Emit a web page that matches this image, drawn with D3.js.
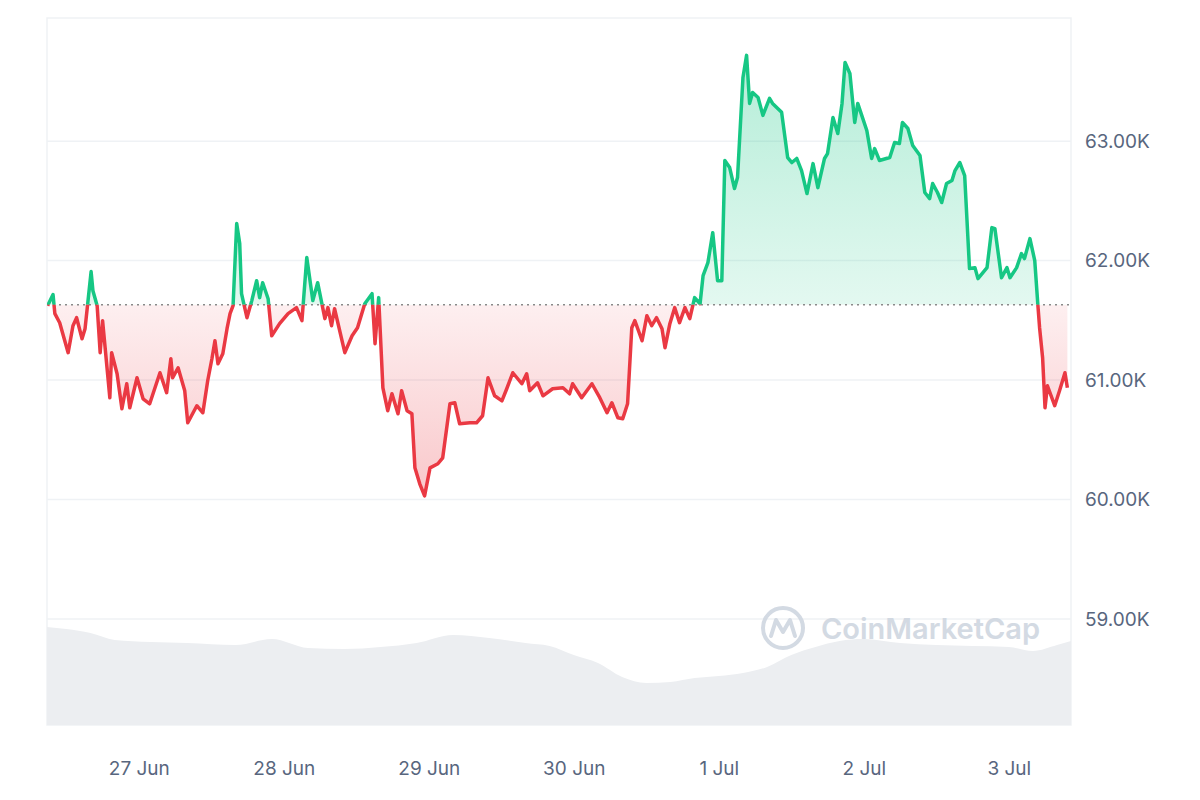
<!DOCTYPE html>
<html><head><meta charset="utf-8">
<script src="https://cdn.jsdelivr.net/npm/d3@7"></script>
<style>body{margin:0;background:#fff}svg{display:block}text{font-family:Inter,"Noto Sans",sans-serif}</style>
</head><body><svg id="c" width="1200" height="800"></svg>
<script>
// hours since 26 Jun 00:00
const hours=[8.9,9.8,10.1,10.9,12.3,13.1,13.7,14.6,15.1,16.1,16.4,17.1,17.6,18.0,19.2,19.5,20.4,21.2,22.0,22.5,23.7,24.7,25.8,27.5,28.6,29.3,29.6,30.5,31.6,32.1,33.6,34.6,35.4,36.1,36.6,37.1,37.9,38.6,39.1,39.6,40.2,40.7,41.0,41.9,42.7,43.5,44.0,44.5,45.4,46.0,47.3,48.7,50.1,51.0,51.8,52.8,53.6,54.8,55.3,55.9,56.4,58.1,59.3,60.2,61.4,62.6,63.1,63.7,64.4,65.2,65.9,66.9,67.5,68.4,69.2,69.7,70.5,71.3,72.2,73.5,74.3,75.5,76.3,77.1,78.8,79.9,80.9,81.8,82.9,84.1,84.9,85.9,87.4,88.2,88.7,90.0,90.9,92.5,94.2,95.3,95.8,97.3,99.0,100.3,101.5,102.3,103.3,104.1,104.9,105.6,106.1,107.3,108.1,108.9,109.7,110.6,111.1,111.9,112.7,113.5,114.4,115.2,116.0,116.9,117.4,118.2,119.0,119.8,120.5,121.0,121.8,122.6,123.1,124.0,124.6,125.1,125.6,126.5,127.3,128.4,128.9,130.4,131.4,132.1,132.9,133.7,134.6,135.6,136.4,137.5,138.0,138.9,139.7,140.4,140.9,141.7,142.5,143.0,144.5,145.3,145.8,146.6,148.3,149.1,149.9,150.4,151.3,152.1,153.3,154.1,154.9,155.4,156.2,156.9,157.7,158.6,159.1,159.9,160.7,161.5,162.4,162.9,164.4,165.2,165.7,166.8,167.7,168.2,169.3,170.1,170.6,171.5,172.3,172.8,173.1,173.6,174.0,174.4,175.6,176.4,177.3,177.7];
const prices=[61623,61715,61556,61480,61229,61455,61522,61346,61430,61908,61748,61623,61229,61497,60852,61229,61053,60760,60969,60768,61019,60843,60801,61061,60894,61178,61019,61103,60910,60642,60785,60726,60994,61178,61329,61137,61220,61430,61556,61623,62310,62142,61723,61522,61665,61832,61690,61815,61681,61371,61472,61556,61606,61497,62025,61665,61815,61514,61606,61455,61597,61229,61371,61438,61639,61723,61304,61690,60935,60743,60885,60718,60910,60743,60718,60265,60131,60030,60265,60299,60349,60801,60810,60634,60642,60642,60701,61019,60868,60826,60927,61061,60969,61053,60910,60977,60868,60927,60935,60885,60969,60852,60969,60852,60726,60810,60684,60676,60801,61438,61497,61329,61539,61455,61522,61430,61271,61472,61606,61480,61606,61514,61690,61639,61874,61983,62234,61832,61832,62838,62779,62603,62695,63533,63718,63316,63408,63366,63216,63358,63316,63241,62863,62821,62855,62754,62561,62812,62611,62855,62896,63198,63064,63316,63659,63567,63157,63316,63089,62855,62938,62838,62863,62989,62980,63157,63106,62964,62880,62570,62519,62645,62570,62486,62645,62670,62754,62821,62712,61933,61941,61849,61941,62276,62268,61857,61941,61857,61941,62058,62017,62184,62000,61639,61438,61187,60768,60952,60785,60910,61061,60935];
const baseline=61631;
const volHours=[8.8,12,16,20,26,32,40,46,52,58,64,70,76,82,88,92,96,100,104,108,112,116,120,124,128,132,136,140,144,150,156,162,168,172,176,178.3];
const volumes=[98,96,92,85,83,82,80,86,77,76,78,82,90,87,82,79,70,62,48,42,43,47,49,52,58,70,78,84,86,82,80,79,78,74,80,84];
const yTicks=[59000,60000,61000,62000,63000];
const xTickLabels=["27 Jun","28 Jun","29 Jun","30 Jun","1 Jul","2 Jul","3 Jul"];
const xTickHours=[24,48,72,96,120,144,168];

const svg=d3.select("#c");
const L=47,R=1071,T=18,B=725;
const x=d3.scaleLinear().domain([8.8,178.3]).range([L,R]);
const y=d3.scaleLinear().domain([58112,64031]).range([B,T]);
const yv=d3.scaleLinear().domain([0,100]).range([B,B-100]);
const data=hours.map((h,i)=>({h,p:prices[i]}));

svg.append("g").selectAll("line").data(yTicks).join("line")
 .attr("x1",L).attr("x2",R).attr("y1",d=>y(d)).attr("y2",d=>y(d)).attr("stroke","#eff2f5").attr("stroke-width",1.5);
svg.append("rect").attr("x",L).attr("y",T).attr("width",R-L).attr("height",B-T).attr("fill","none").attr("stroke","#eff2f5").attr("stroke-width",1.5);

const vd=volHours.map((h,i)=>({h,v:volumes[i]}));
svg.append("path").datum(vd).attr("fill","#eceef1")
 .attr("d",d3.area().x(d=>x(d.h)).y0(B).y1(d=>yv(d.v)).curve(d3.curveMonotoneX));

const wm=svg.append("g").attr("opacity",0.9);
wm.append("circle").attr("cx",783).attr("cy",628).attr("r",20).attr("fill","none").attr("stroke","#cfd6e0").attr("stroke-width",4);
wm.append("path").attr("d","M771,636 L776,620 L783,632 L790,620 L795,636").attr("fill","none").attr("stroke","#cfd6e0").attr("stroke-width",4).attr("stroke-linejoin","round").attr("stroke-linecap","round");
wm.append("text").attr("x",821).attr("y",639).attr("font-size",29).attr("font-weight",600).attr("fill","#cfd6e0").text("CoinMarketCap");

const defs=svg.append("defs");
defs.append("clipPath").attr("id","above").append("rect").attr("x",L).attr("y",T).attr("width",R-L).attr("height",y(baseline)-T);
defs.append("clipPath").attr("id","below").append("rect").attr("x",L).attr("y",y(baseline)).attr("width",R-L).attr("height",B-y(baseline));
const gg=defs.append("linearGradient").attr("id","gg").attr("x1",0).attr("x2",0).attr("gradientUnits","userSpaceOnUse").attr("y1",y(63718)).attr("y2",y(baseline));
gg.append("stop").attr("offset",0).attr("stop-color","#16c784").attr("stop-opacity",0.32);
gg.append("stop").attr("offset",1).attr("stop-color","#16c784").attr("stop-opacity",0.12);
const rg=defs.append("linearGradient").attr("id","rg").attr("x1",0).attr("x2",0).attr("gradientUnits","userSpaceOnUse").attr("y1",y(baseline)).attr("y2",y(60030));
rg.append("stop").attr("offset",0).attr("stop-color","#ea3943").attr("stop-opacity",0.08);
rg.append("stop").attr("offset",1).attr("stop-color","#ea3943").attr("stop-opacity",0.28);

const area=d3.area().x(d=>x(d.h)).y0(y(baseline)).y1(d=>y(d.p));
const line=d3.line().x(d=>x(d.h)).y(d=>y(d.p));
svg.append("path").datum(data).attr("d",area).attr("fill","url(#gg)").attr("clip-path","url(#above)");
svg.append("path").datum(data).attr("d",area).attr("fill","url(#rg)").attr("clip-path","url(#below)");
svg.append("line").attr("x1",L).attr("x2",R).attr("y1",y(baseline)).attr("y2",y(baseline)).attr("stroke","#8a8a8a").attr("stroke-width",1.5).attr("stroke-dasharray","2,4");
svg.append("path").datum(data).attr("d",line).attr("fill","none").attr("stroke","#16c784").attr("stroke-width",3.5).attr("stroke-linejoin","round").attr("clip-path","url(#above)");
svg.append("path").datum(data).attr("d",line).attr("fill","none").attr("stroke","#ea3943").attr("stroke-width",3.5).attr("stroke-linejoin","round").attr("clip-path","url(#below)");

const ya=svg.append("g").attr("transform",`translate(${R+11},0)`).call(d3.axisRight(y).tickValues(yTicks).tickSize(0).tickFormat(d=>(d/1000).toFixed(2)+"K"));
ya.select(".domain").remove();
ya.selectAll("text").attr("font-size",19).attr("fill","#58667e").attr("font-family","Inter,sans-serif");
const xa=svg.append("g").attr("transform",`translate(0,${B+33})`).call(d3.axisBottom(x).tickValues(xTickHours).tickSize(0).tickFormat((d,i)=>xTickLabels[i]));
xa.select(".domain").remove();
xa.selectAll("text").attr("font-size",19).attr("fill","#58667e").attr("font-family","Inter,sans-serif");
</script></body></html>
